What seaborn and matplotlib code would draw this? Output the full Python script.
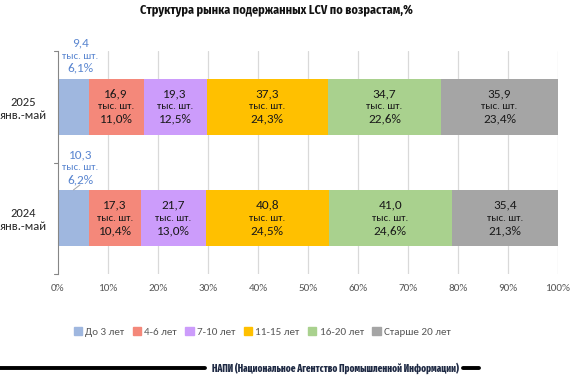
import matplotlib
matplotlib.use("Agg")
import matplotlib.pyplot as plt
import seaborn as sns
import pandas as pd
import numpy as np
from matplotlib.lines import Line2D
from matplotlib import font_manager

periods = ["2025\nянв.-май", "2024\nянв.-май"]
groups = ["До 3 лет", "4-6 лет", "7-10 лет", "11-15 лет", "16-20 лет", "Старше 20 лет"]
counts_2025 = [9.4, 16.9, 19.3, 37.3, 34.7, 35.9]
counts_2024 = [10.3, 17.3, 21.7, 40.8, 41.0, 35.4]
share_2025 = ["6,1%", "11,0%", "12,5%", "24,3%", "22,6%", "23,4%"]
share_2024 = ["6,2%", "10,4%", "13,0%", "24,5%", "24,6%", "21,3%"]
colors = ["#9FB7DF", "#F4887A", "#CC9CFB", "#FFC000", "#A9D18E", "#A5A5A5"]
xticks = [0, 10, 20, 30, 40, 50, 60, 70, 80, 90, 100]

sns.set_theme(style="white")
names = {f.name for f in font_manager.fontManager.ttflist}
def pick(cands):
    return [c for c in cands if c in names] + ['DejaVu Sans']
base_family = pick(['Carlito', 'Liberation Sans'])
narrow_family = pick(['Fira Sans Condensed', 'Archivo Narrow'])
xnarrow_family = pick(['Fira Sans Extra Condensed', 'Fira Sans Condensed'])
plt.rcParams['font.family'] = base_family

fig = plt.figure(figsize=(5.8, 3.76), dpi=100)
ax = fig.add_axes([0.1, 0.271, 0.862, 0.593])

counts = [counts_2025, counts_2024]
shares = [share_2025, share_2024]
rows = []
for p, c in zip(periods, counts):
    c = np.array(c)
    pct = c / c.sum() * 100
    cum = np.cumsum(pct)
    for g, v, cu, cn in zip(groups, pct, cum, c):
        rows.append(dict(period=p, group=g, pct=v, cum=cu, cnt=cn))
df = pd.DataFrame(rows)

for g, col in reversed(list(zip(groups, colors))):
    sub = df[df.group == g]
    sns.barplot(data=sub, x="cum", y="period", order=periods, color=col,
                width=0.5, ax=ax, saturation=1, linewidth=0, label=g, orient="h")

ax.set_xlim(0, 100)
ax.set_ylim(1.5, -0.5)
ax.set_xticks(xticks)
ax.set_xticklabels([f"{t}%" for t in xticks], fontsize=8, color="#595959")
ax.tick_params(axis="x", length=0, pad=7)
ax.set_yticks([0, 1])
ax.set_yticklabels(periods, fontsize=9, color="#262626", multialignment="center")
ax.tick_params(axis="y", length=0, pad=8)
for yb in [-0.5, 0.5, 1.5]:
    ax.plot([-0.9, 0], [yb, yb], color="#868686", lw=0.8, clip_on=False, zorder=0)
ax.set_xlabel("")
ax.set_ylabel("")
for t in xticks[1:]:
    ax.axvline(t, color="#D9D9D9", lw=0.9, zorder=0)
ax.set_axisbelow(True)
for s in ["top", "right", "bottom"]:
    ax.spines[s].set_visible(False)
ax.spines["left"].set_color("#868686")
ax.spines["left"].set_linewidth(0.8)
ax.spines["left"].set_zorder(5)
if ax.get_legend() is not None:
    ax.get_legend().remove()

label_blue = "#5A86D0"
for i, p in enumerate(periods):
    sub = df[df.period == p].reset_index(drop=True)
    for j in range(len(groups)):
        left = sub.cum[j] - sub.pct[j]
        cx = left + sub.pct[j] / 2
        val = f"{sub.cnt[j]:.1f}".replace(".", ",")
        if j == 0:
            xl = cx + 1.4
            ax.text(xl, i - 0.57, val, ha="center", va="center", fontsize=9.5, color=label_blue)
            ax.text(xl, i - 0.455, "тыс. шт.", ha="center", va="center", fontsize=7.8, color=label_blue)
            ax.text(xl, i - 0.345, shares[i][j], ha="center", va="center", fontsize=9.5, color=label_blue)
            if i == 1:
                ax.plot([cx, cx + 1.3], [i - 0.255, i - 0.3], color="#A6A6A6", lw=0.7)
        else:
            ax.text(cx, i - 0.118, val, ha="center", va="center", fontsize=9.5, color="#1a1a1a")
            ax.text(cx, i + 0.0, "тыс. шт.", ha="center", va="center", fontsize=7.8, color="#1a1a1a")
            ax.text(cx, i + 0.112, shares[i][j], ha="center", va="center", fontsize=9.5, color="#1a1a1a")

title = fig.text(0.477, 0.971, "Структура рынка подержанных LCV по возрастам,%", ha="center", va="center",
                 fontsize=10, fontweight="bold", color="#111111", family=narrow_family)

handles = [plt.Rectangle((0, 0), 1, 1, color=c) for c in colors]
fig.legend(handles, groups, loc="center", bbox_to_anchor=(0.452, 0.117), ncol=6, frameon=False,
           fontsize=8, handlelength=0.75, handleheight=0.75, handletextpad=0.3, columnspacing=0.75,
           labelcolor="#595959")

ft = fig.text(0.5, 0.021, "НАПИ (Национальное Агентство Промышленной Информации)", ha="center", va="center",
              fontsize=7.5, fontweight="heavy", color="#1F2A44", family=xnarrow_family)

def fit(t, target_px):
    fig.canvas.draw()
    w = t.get_window_extent().width
    t.set_fontsize(t.get_fontsize() * target_px / w)
fit(title, 273)
fit(ft, 246)
ft.set_x((212 + 123) / 580)
fig.canvas.draw()
bb = ft.get_window_extent().transformed(fig.transFigure.inverted())
fig.add_artist(Line2D([0.0, bb.x0 - 0.012], [0.021, 0.021], color="black", lw=2.8, transform=fig.transFigure))
fig.add_artist(Line2D([bb.x1 + 0.008, bb.x1 + 0.036], [0.021, 0.021], color="black", lw=2.8, transform=fig.transFigure))

fig.savefig("out.png", dpi=100)
